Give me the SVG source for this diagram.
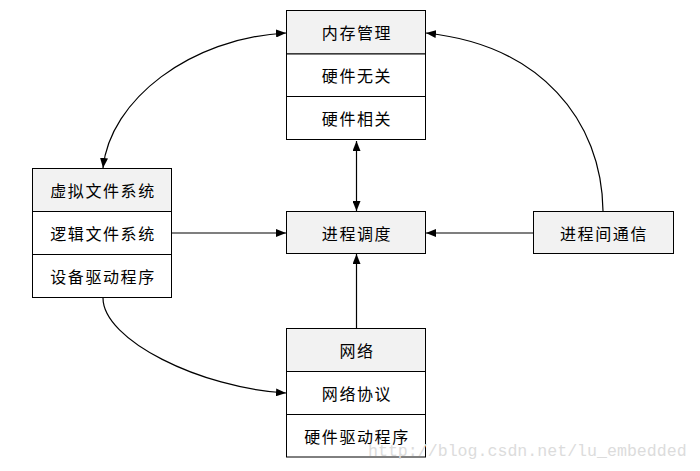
<svg xmlns="http://www.w3.org/2000/svg" width="700" height="471" viewBox="0 0 700 471">
<style>
.box{fill:#fff;stroke:#000;stroke-width:1}
.hd{fill:#f2f2f2;stroke:#000;stroke-width:1}
.t{font-family:"Noto Sans CJK SC","Microsoft YaHei",sans-serif;font-size:16px;letter-spacing:1.6px;fill:#000;text-anchor:middle;dominant-baseline:central}
.c{fill:none;stroke:#000;stroke-width:1.2}
.wm{font-family:"Liberation Mono",monospace;font-size:16.6px;fill:#dcdcdc}
</style>
<defs>
<marker id="ah" markerWidth="10" markerHeight="8" refX="10" refY="4" orient="auto" markerUnits="userSpaceOnUse">
<path d="M0,0 L10,4 L0,8 Z" fill="#000"/>
</marker>
<marker id="as" markerWidth="10" markerHeight="8" refX="0" refY="4" orient="auto" markerUnits="userSpaceOnUse">
<path d="M10,0 L0,4 L10,8 Z" fill="#000"/>
</marker>
</defs>
<g id="connectors">
<path class="c" d="M356.5,141 L356.5,211" marker-start="url(#as)" marker-end="url(#ah)"/>
<path class="c" d="M356.5,328 L356.5,254" marker-end="url(#ah)"/>
<path class="c" d="M172,233 L286,233" marker-end="url(#ah)"/>
<path class="c" d="M533,233 L426,233" marker-end="url(#ah)"/>
<path class="c" d="M603,211 C602,120 540,45 426,33" marker-end="url(#ah)"/>
<path class="c" d="M103,168 C110,100 190,38 286,33" marker-start="url(#as)" marker-end="url(#ah)"/>
<path class="c" d="M103,298 C103,340 200,388 286,393" marker-end="url(#ah)"/>
</g>
<g id="memory">
<rect class="hd" x="286.5" y="10.5" width="139" height="43.5"/>
<rect class="box" x="286.5" y="54" width="139" height="42.5"/>
<rect class="box" x="286.5" y="96.5" width="139" height="43"/>
<text class="t" x="357" y="32">内存管理</text>
<text class="t" x="357" y="75">硬件无关</text>
<text class="t" x="357" y="118">硬件相关</text>
</g>
<g id="vfs">
<rect class="hd" x="32.5" y="168.5" width="139" height="43"/>
<rect class="box" x="32.5" y="211.5" width="139" height="43"/>
<rect class="box" x="32.5" y="254.5" width="139" height="43"/>
<text class="t" x="103" y="190">虚拟文件系统</text>
<text class="t" x="103" y="233">逻辑文件系统</text>
<text class="t" x="103" y="276">设备驱动程序</text>
</g>
<g id="scheduler">
<rect class="hd" x="286.5" y="211.5" width="139" height="42"/>
<text class="t" x="357" y="233">进程调度</text>
</g>
<g id="ipc">
<rect class="hd" x="533.5" y="211.5" width="140" height="42"/>
<text class="t" x="604" y="233">进程间通信</text>
</g>
<g id="network">
<rect class="hd" x="286.5" y="328.5" width="139" height="43"/>
<rect class="box" x="286.5" y="371.5" width="139" height="43"/>
<rect class="box" x="286.5" y="414.5" width="139" height="42.5"/>
<text class="t" x="357" y="350">网络</text>
<text class="t" x="357" y="393">网络协议</text>
<text class="t" x="357" y="436">硬件驱动程序</text>
</g>
<text class="wm" x="368" y="456">http://blog.csdn.net/lu_embedded</text>
</svg>
